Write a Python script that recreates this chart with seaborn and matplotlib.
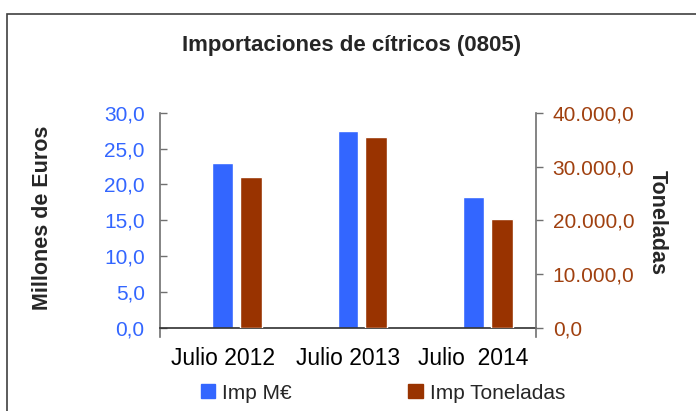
import matplotlib
matplotlib.use("Agg")
import matplotlib.pyplot as plt
import matplotlib.patches as mpatches
import matplotlib.ticker as mticker
import numpy as np
import pandas as pd
import seaborn as sns

# ---- data ----
categories = ["Julio 2012", "Julio 2013", "Julio  2014"]
imp_meur = [23.0, 27.4, 18.2]            # Millones de Euros
imp_ton = [28050.0, 35500.0, 20250.0]    # Toneladas
series_names = ["Imp M\u20ac", "Imp Toneladas"]
left_ticks = [0, 5, 10, 15, 20, 25, 30]
right_ticks = [0, 10000, 20000, 30000, 40000]

BLUE = "#3366FF"
BROWN = "#993300"

sns.set_style("white")
plt.rcParams["font.family"] = ["Liberation Sans", "DejaVu Sans"]

fig = plt.figure(figsize=(6.96, 4.11), dpi=100)
ax = fig.add_axes([160/696, 1-328/411, 376/696, (328-112.7)/411])
ax2 = ax.twinx()

# category centres on a numeric axis (one slot every 2 units)
centres = np.arange(len(categories)) * 2 + 1
df1 = pd.DataFrame({"pos": centres.astype(float), "val": imp_meur})
df2 = pd.DataFrame({"pos": centres + 0.45, "val": imp_ton})

sns.barplot(data=df1, x="pos", y="val", native_scale=True, color=BLUE,
            saturation=1, width=0.165, ax=ax, errorbar=None)
sns.barplot(data=df2, x="pos", y="val", native_scale=True, color=BROWN,
            saturation=1, width=0.175, ax=ax2, errorbar=None)

ax.set_xlim(0, 6)
ax2.set_xlim(0, 6)

ax.set_xticks(np.arange(0, 7))
ax.set_xticklabels(["", categories[0], "", categories[1], "", categories[2], ""])
ax.set_yticks(left_ticks)
ax2.set_yticks(right_ticks)

def comma1(v, pos=None):
    s = f"{v:,.1f}"
    return s.replace(",", "X").replace(".", ",").replace("X", ".")

ax.yaxis.set_major_formatter(mticker.FuncFormatter(comma1))
ax2.yaxis.set_major_formatter(mticker.FuncFormatter(comma1))

ax.tick_params(axis="y", direction="in", length=5, width=1, color="#707070",
               labelsize=15, labelcolor=BLUE, pad=11)
ax.tick_params(axis="x", direction="out", length=6, width=1, color="#505050",
               labelsize=16.5, labelcolor="black", pad=8)
ax2.tick_params(axis="y", direction="out", length=5, width=1, color="#707070",
                labelsize=15, labelcolor="#A0400F", pad=7)
ax2.tick_params(axis="x", bottom=False, labelbottom=False)

for a in (ax, ax2):
    a.spines["top"].set_visible(False)
    a.set_xlabel("")
    a.set_ylabel("")
    a.grid(False)
ax.spines["right"].set_visible(False)
ax2.spines["left"].set_visible(False)
ax2.spines["bottom"].set_visible(False)
ax.spines["left"].set_color("#707070")
ax2.spines["right"].set_color("#707070")
ax.spines["bottom"].set_color("#303030")
for s in (ax.spines["left"], ax2.spines["right"], ax.spines["bottom"]):
    s.set_linewidth(1.2)
ax.spines["left"].set_bounds(-0.04*30, 30)
ax2.spines["right"].set_bounds(-0.04*40000, 40000)
ax.set_ylim(0, 30)
ax2.set_ylim(0, 40000)

fig.text(352/696, 1-45/411, "Importaciones de c\u00edtricos (0805)",
         ha="center", va="center", fontsize=16, fontweight="bold")
fig.text(43/696, 1-218/411, "Millones de Euros", ha="center", va="center",
         rotation=90, fontsize=15.5, fontweight="bold")
fig.text(657/696, 1-222/411, "Toneladas", ha="center", va="center",
         rotation=270, fontsize=15.5, fontweight="bold")

h1 = mpatches.Patch(color=BLUE)
h2 = mpatches.Patch(color=BROWN)
fig.legend([h1, h2], series_names, loc="center", ncol=2,
           bbox_to_anchor=(383/696, 1-393/411), frameon=False,
           fontsize=15, handlelength=0.68, handleheight=0.68,
           handletextpad=0.35, columnspacing=5.6, borderpad=0)

# outer chart frame
frame = mpatches.Rectangle((7/696, -0.2), 1.2, 1.2 - 14/411, transform=fig.transFigure,
                           fill=False, edgecolor="#404040", linewidth=1.2)
fig.patches.append(frame)

fig.savefig("out.png", dpi=100)
